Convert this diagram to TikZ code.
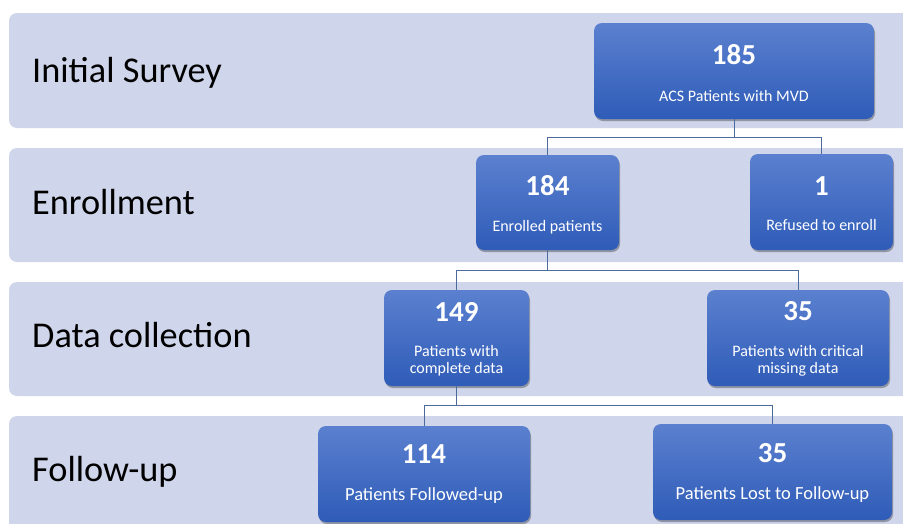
\documentclass[tikz,border=0pt]{standalone}
\usepackage{fontspec}
\setmainfont{Carlito}
\usetikzlibrary{shadows,calc}
\definecolor{bandc}{HTML}{CFD5EA}
\definecolor{boxtop}{HTML}{5B80CF}
\definecolor{boxbot}{HTML}{2F5CB8}
\definecolor{linec}{HTML}{4D6A9C}
\begin{document}
\begin{tikzpicture}[x=1pt,y=-1pt,
  band/.style={fill=bandc, rounded corners=8pt},
  stagebox/.style={draw=none, rounded corners=8pt, top color=boxtop, bottom color=boxbot,
    inner sep=0pt, drop shadow={shadow xshift=1pt, shadow yshift=-2pt, opacity=0.3, fill=black}},
  numtxt/.style={text=white, font=\fontsize{29}{34}\selectfont\bfseries, anchor=base, inner sep=0pt},
  subtxt/.style={text=white, font=\fontsize{16}{17}\selectfont, anchor=base, inner sep=0pt},
  bigsub/.style={subtxt, font=\fontsize{18.5}{20}\selectfont},
  stagelbl/.style={font=\fontsize{36.3}{40}\selectfont, anchor=base west, inner sep=0pt},
  conn/.style={draw=linec, line width=0.9pt}]
\clip (0,0) rectangle (903,523);
\fill[white] (0,0) rectangle (903,523);
% bands
\path[band] (9,13) rectangle (930,128);
\path[band] (9,148) rectangle (930,262);
\path[band] (9,282) rectangle (930,396);
\path[band] (9,416) rectangle (930,540);
% stage labels
\node[stagelbl] (l1) at (32,82) {Initial Survey};
\node[stagelbl] (l2) at (32,214) {Enrollment};
\node[stagelbl] (l3) at (32,347) {Data collection};
\node[stagelbl] (l4) at (32,481) {Follow-up};
% boxes
\node[stagebox, minimum width=280pt, minimum height=96pt] (b185) at (734,71) {};
\node[stagebox, minimum width=143pt, minimum height=95pt] (b184) at (547.5,202.5) {};
\node[stagebox, minimum width=143pt, minimum height=96pt] (b1) at (821.5,202) {};
\node[stagebox, minimum width=145pt, minimum height=96pt] (b149) at (456.5,338) {};
\node[stagebox, minimum width=182pt, minimum height=96pt] (b35a) at (798,338) {};
\node[stagebox, minimum width=212pt, minimum height=96pt] (b114) at (424,474) {};
\node[stagebox, minimum width=239pt, minimum height=96pt] (b35b) at (772.5,472) {};
% connectors
\draw[conn] (b185.south) -- ++(0,18) coordinate (j1) -| (b184.north);
\draw[conn] (j1) -| (b1.north);
\draw[conn] (b184.south) -- ++(0,20) coordinate (j2) -| (b149.north);
\draw[conn] (j2) -| (b35a.north);
\draw[conn] (b149.south) -- ++(0,19) coordinate (j3) -| (b114.north);
\draw[conn] (j3) -| (b35b.north);
% texts
\node[numtxt] (n185) at (734,64) {185};
\node[subtxt] (s185) at (734,101) {ACS Patients with MVD};
\node[numtxt] (n184) at (547.5,195) {184};
\node[subtxt] (s184) at (547.5,231) {Enrolled patients};
\node[numtxt] (n1) at (821.5,195) {1};
\node[subtxt] (s1) at (821.5,230) {Refused to enroll};
\node[numtxt] (n149) at (456.5,321) {149};
\node[subtxt] (s149) at (456.5,356) {\begin{tabular}[t]{@{}c@{}}Patients with\\complete data\end{tabular}};
\node[numtxt] (n35a) at (798,320) {35};
\node[subtxt] (s35a) at (798,356) {\begin{tabular}[t]{@{}c@{}}Patients with critical\\missing data\end{tabular}};
\node[numtxt] (n114) at (424,463) {114};
\node[bigsub] (s114) at (424,500) {Patients Followed-up};
\node[numtxt] (n35b) at (772.5,462) {35};
\node[bigsub] (s35b) at (772.5,499) {Patients Lost to Follow-up};
\end{tikzpicture}
\end{document}
